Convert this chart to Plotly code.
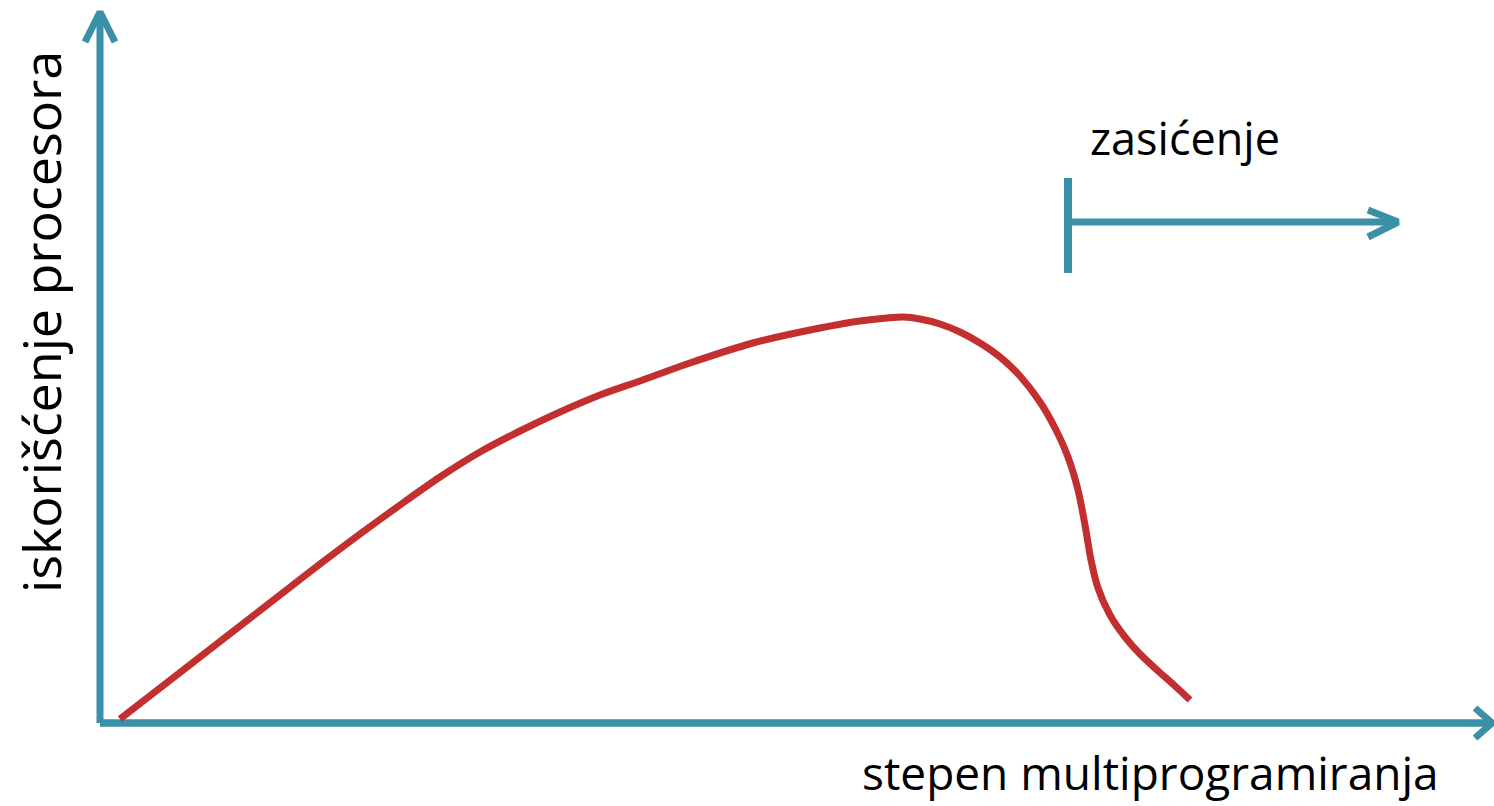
import plotly.graph_objects as go

# Curve: degree of multiprogramming (x) vs. CPU utilisation (y), arbitrary units
curve_x = [2.0, 6.0, 10.0, 14.0, 18.0, 22.0, 26.0, 30.0, 34.0, 38.0, 42.0, 46.0, 50.0,
           54.0, 58.7, 65.3, 72.0, 76.0, 78.7, 80.3, 82.0, 84.0, 86.0, 88.0, 90.0, 92.0,
           94.0, 95.5, 96.8, 97.8, 98.5, 99.1, 99.8, 101.0, 102.5, 104.0, 105.7, 107.5, 109.0]
curve_y = [0.3, 3.4, 6.5, 9.6, 12.7, 15.8, 18.8, 21.7, 24.5, 27.0, 29.1, 31.0, 32.7,
           34.1, 35.8, 37.9, 39.4, 40.1, 40.4, 40.5, 40.3, 39.8, 39.0, 37.9, 36.5, 34.6,
           32.0, 29.4, 26.5, 23.2, 19.7, 16.2, 13.4, 10.7, 8.5, 6.8, 5.2, 3.6, 2.2]

x_label = "stepen multiprogramiranja"
y_label = "iskorišćenje procesora"
sat_label = "zasićenje"

# axis extents (data units)
x_axis_end = 139.2
y_axis_end = 71.0
# saturation marker
sat_x_start = 96.8
sat_x_end = 129.8
sat_y = 50.0
sat_bar_lo = 44.9
sat_bar_hi = 54.4

TEAL = "#3a90a6"
RED = "#c32e2e"

fig = go.Figure()

# axes
fig.add_trace(go.Scatter(x=[0, 0], y=[-0.1, y_axis_end], mode="lines",
                         line=dict(color=TEAL, width=7), hoverinfo="skip"))
fig.add_trace(go.Scatter(x=[0, x_axis_end], y=[-0.1, -0.1], mode="lines",
                         line=dict(color=TEAL, width=7.5), hoverinfo="skip"))
# arrowheads (chevrons)
fig.add_trace(go.Scatter(x=[-1.5, 0, 1.5], y=[y_axis_end - 3.0, y_axis_end, y_axis_end - 3.0],
                         mode="lines", line=dict(color=TEAL, width=7), hoverinfo="skip"))
fig.add_trace(go.Scatter(x=[x_axis_end - 1.7, x_axis_end, x_axis_end - 1.7], y=[1.4, -0.1, -1.6],
                         mode="lines", line=dict(color=TEAL, width=7), hoverinfo="skip"))

# saturation marker
fig.add_trace(go.Scatter(x=[sat_x_start, sat_x_start], y=[sat_bar_lo, sat_bar_hi], mode="lines",
                         line=dict(color=TEAL, width=8), hoverinfo="skip"))
fig.add_trace(go.Scatter(x=[sat_x_start, sat_x_end], y=[sat_y, sat_y], mode="lines",
                         line=dict(color=TEAL, width=7), hoverinfo="skip"))
fig.add_trace(go.Scatter(x=[sat_x_end - 3.0, sat_x_end, sat_x_end - 3.0],
                         y=[sat_y + 1.2, sat_y, sat_y - 1.5], mode="lines",
                         line=dict(color=TEAL, width=7), hoverinfo="skip"))

# utilisation curve
fig.add_trace(go.Scatter(x=curve_x, y=curve_y, mode="lines",
                         line=dict(color=RED, width=7, shape="spline", smoothing=0.8),
                         hoverinfo="skip"))

FONT = "Open Sans"
fig.add_annotation(x=105.0, y=-5.0, text=x_label, showarrow=False, xanchor="center",
                   yanchor="middle", font=dict(family=FONT, size=46, color="black"))
fig.add_annotation(x=-6.0, y=40.0, text=y_label, showarrow=False, textangle=-90,
                   xanchor="center", yanchor="middle",
                   font=dict(family=FONT, size=52, color="black"))
fig.add_annotation(x=98.8, y=58.5, text=sat_label, showarrow=False, xanchor="left",
                   yanchor="middle", font=dict(family=FONT, size=45, color="black"))

fig.update_layout(
    width=1494, height=806,
    margin=dict(l=0, r=0, t=0, b=0),
    paper_bgcolor="white", plot_bgcolor="white",
    showlegend=False,
    xaxis=dict(range=[-10.0, 139.4], visible=False, fixedrange=True),
    yaxis=dict(range=[-8.4, 72.2], visible=False, fixedrange=True),
)

fig.write_html("out.html", config={"displayModeBar": False},
               post_script="document.body.style.margin='0';document.body.style.overflow='hidden';")
